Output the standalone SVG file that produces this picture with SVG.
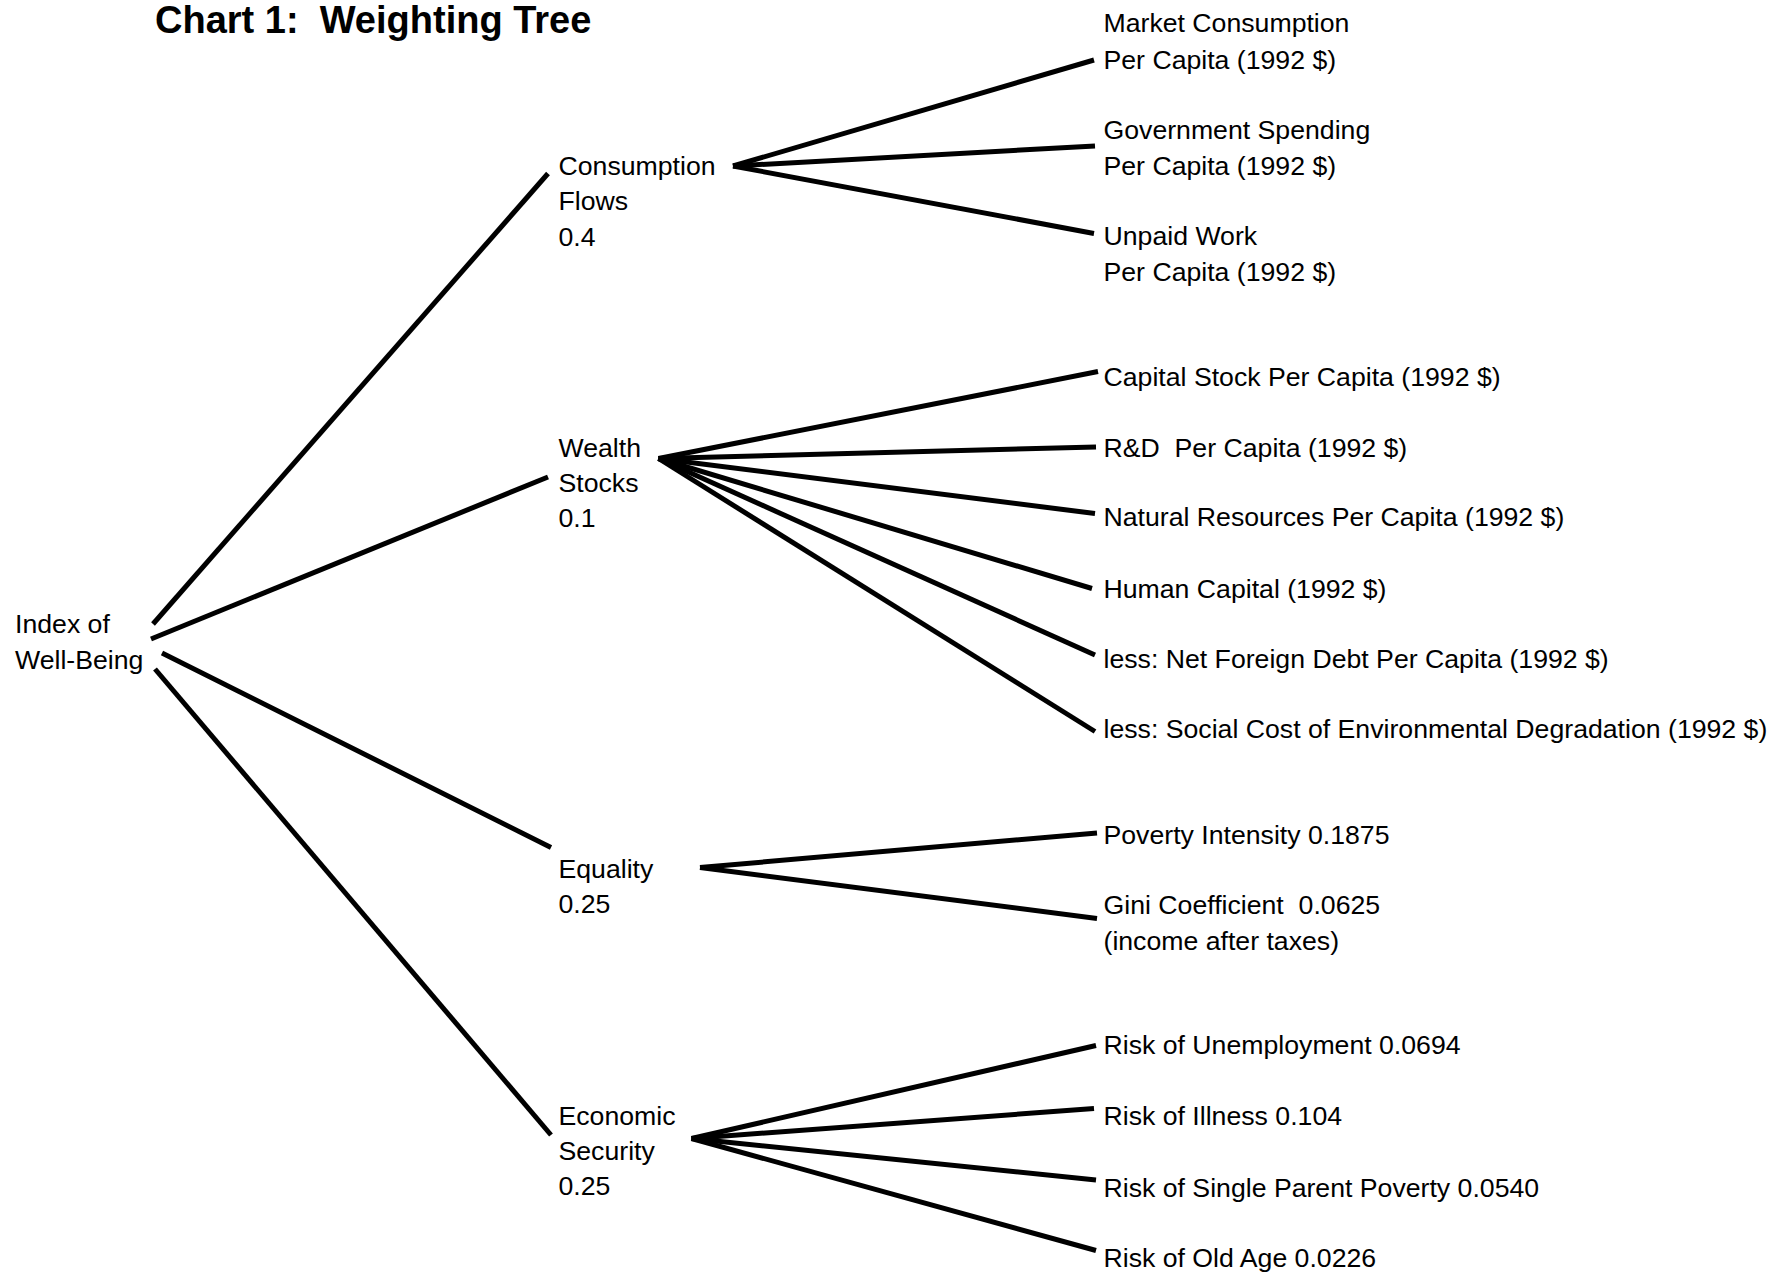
<svg xmlns="http://www.w3.org/2000/svg" width="1791" height="1272" viewBox="0 0 1791 1272">
<style>
  text { font-family: "Liberation Sans", Arial, sans-serif; font-size: 26.67px; fill: #000; }
  .title { font-weight: bold; font-size: 38px; }
  .edge { stroke: #000; stroke-width: 5; stroke-linecap: butt; fill: none; }
</style>
<rect width="1791" height="1272" fill="#fff"/>
<text class="title" x="155" y="33" xml:space="preserve">Chart 1:  Weighting Tree</text>
<g id="connectors">
  <line class="edge" x1="153" y1="624" x2="548" y2="173.5"/>
  <line class="edge" x1="151" y1="639" x2="548" y2="477"/>
  <line class="edge" x1="162" y1="653" x2="551" y2="847.5"/>
  <line class="edge" x1="155" y1="669" x2="551" y2="1135"/>
  <line class="edge" x1="733" y1="166" x2="1094" y2="60"/>
  <line class="edge" x1="733" y1="166" x2="1095" y2="146"/>
  <line class="edge" x1="733" y1="166" x2="1094" y2="233.5"/>
  <line class="edge" x1="658.5" y1="458.5" x2="1098" y2="371.5"/>
  <line class="edge" x1="658.5" y1="458.5" x2="1096" y2="447"/>
  <line class="edge" x1="658.5" y1="458.5" x2="1095" y2="513.5"/>
  <line class="edge" x1="658.5" y1="458.5" x2="1092" y2="588.5"/>
  <line class="edge" x1="658.5" y1="458.5" x2="1095" y2="655"/>
  <line class="edge" x1="658.5" y1="458.5" x2="1095" y2="731.5"/>
  <line class="edge" x1="700" y1="867.5" x2="1097" y2="833"/>
  <line class="edge" x1="700" y1="867.5" x2="1097" y2="918.5"/>
  <line class="edge" x1="691.5" y1="1138.5" x2="1096" y2="1045.5"/>
  <line class="edge" x1="691.5" y1="1138.5" x2="1094" y2="1108.5"/>
  <line class="edge" x1="691.5" y1="1138.5" x2="1096" y2="1180"/>
  <line class="edge" x1="691.5" y1="1138.5" x2="1096" y2="1250.5"/>
</g>
<g id="root"><text x="15" y="633">Index of</text><text x="15" y="669">Well-Being</text></g>
<g id="consumption"><text x="558.5" y="175">Consumption</text><text x="558.5" y="210">Flows</text><text x="558.5" y="245.5">0.4</text></g>
<g id="wealth"><text x="558.5" y="457">Wealth</text><text x="558.5" y="492">Stocks</text><text x="558.5" y="527">0.1</text></g>
<g id="equality"><text x="558.5" y="878">Equality</text><text x="558.5" y="913">0.25</text></g>
<g id="security"><text x="558.5" y="1125">Economic</text><text x="558.5" y="1160">Security</text><text x="558.5" y="1195">0.25</text></g>
<g id="market"><text x="1103.5" y="31.5">Market Consumption</text><text x="1103.5" y="68.5">Per Capita (1992 $)</text></g>
<g id="government"><text x="1103.5" y="138.5">Government Spending</text><text x="1103.5" y="174.5">Per Capita (1992 $)</text></g>
<g id="unpaid"><text x="1103.5" y="245">Unpaid Work</text><text x="1103.5" y="280.5">Per Capita (1992 $)</text></g>
<g id="capital"><text x="1103.5" y="386">Capital Stock Per Capita (1992 $)</text></g>
<g id="rnd"><text x="1103.5" y="457" xml:space="preserve">R&amp;D  Per Capita (1992 $)</text></g>
<g id="natural"><text x="1103.5" y="526">Natural Resources Per Capita (1992 $)</text></g>
<g id="human"><text x="1103.5" y="597.5">Human Capital (1992 $)</text></g>
<g id="foreign-debt"><text x="1103.5" y="667.5">less: Net Foreign Debt Per Capita (1992 $)</text></g>
<g id="environment"><text x="1103.5" y="737.5">less: Social Cost of Environmental Degradation (1992 $)</text></g>
<g id="poverty"><text x="1103.5" y="844">Poverty Intensity 0.1875</text></g>
<g id="gini"><text x="1103.5" y="913.5" xml:space="preserve">Gini Coefficient  0.0625</text><text x="1103.5" y="950">(income after taxes)</text></g>
<g id="unemployment"><text x="1103.5" y="1054">Risk of Unemployment 0.0694</text></g>
<g id="illness"><text x="1103.5" y="1125.3">Risk of Illness 0.104</text></g>
<g id="single-parent"><text x="1103.5" y="1196.5">Risk of Single Parent Poverty 0.0540</text></g>
<g id="old-age"><text x="1103.5" y="1267">Risk of Old Age 0.0226</text></g>
</svg>
